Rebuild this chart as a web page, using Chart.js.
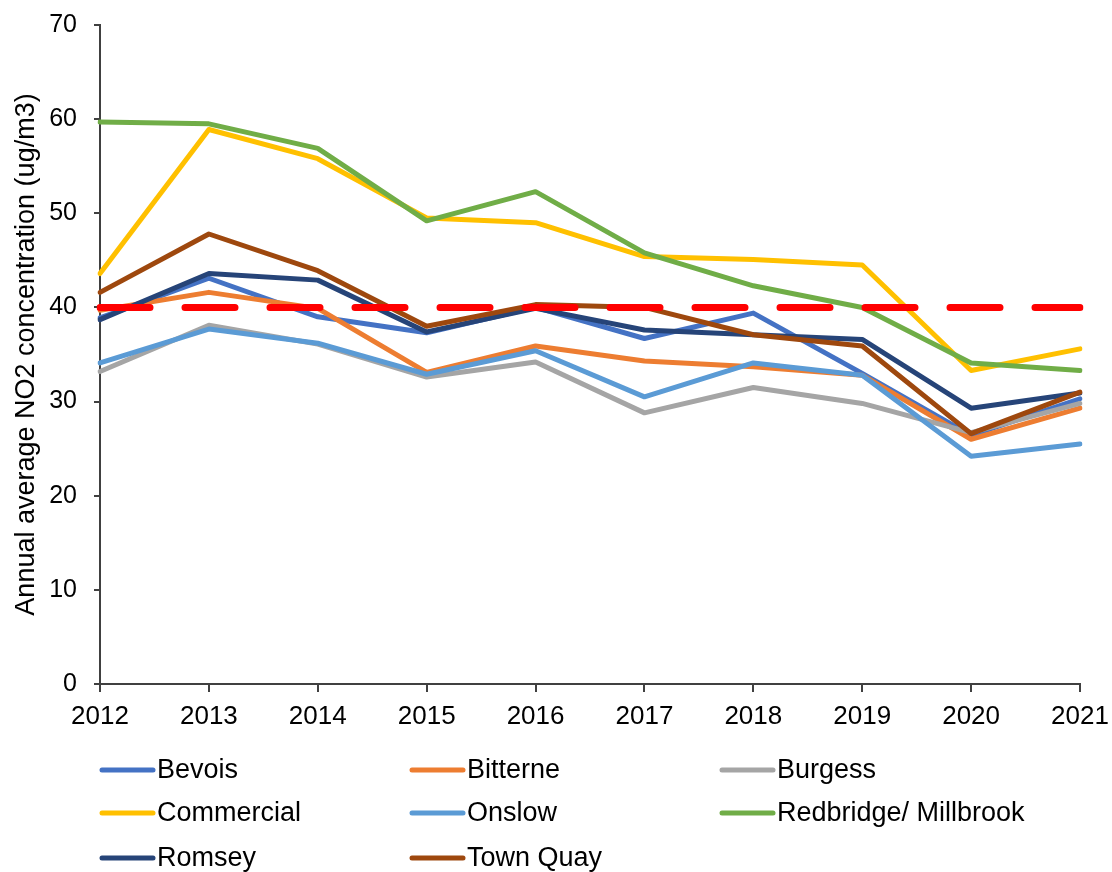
<!DOCTYPE html>
<html>
<head>
<meta charset="utf-8">
<script src="https://cdn.jsdelivr.net/npm/chart.js@4.4.1/dist/chart.umd.min.js"></script>
<style>
  html, body { margin: 0; padding: 0; background: #ffffff; }
  #wrap { width: 1112px; height: 872px; position: relative; }
</style>
</head>
<body>
<div id="wrap"><canvas id="c"></canvas></div>
<script>
const years = ['2012','2013','2014','2015','2016','2017','2018','2019','2020','2021'];
const yTicks = [0, 10, 20, 30, 40, 50, 60, 70];

const bevois     = [38.9, 43.1, 39.0, 37.3, 40.0, 36.7, 39.4, 33.0, 26.4, 30.3];
const bitterne   = [39.7, 41.6, 39.9, 33.1, 35.9, 34.3, 33.7, 32.8, 26.0, 29.3];
const burgess    = [33.2, 38.1, 36.1, 32.6, 34.2, 28.8, 31.5, 29.8, 26.7, 29.8];
const commercial = [43.6, 58.9, 55.8, 49.5, 49.0, 45.4, 45.1, 44.5, 33.3, 35.6];
const onslow     = [34.1, 37.7, 36.2, 32.9, 35.4, 30.5, 34.1, 32.8, 24.2, 25.5];
const redbridge  = [59.7, 59.5, 56.9, 49.2, 52.3, 45.8, 42.3, 40.0, 34.1, 33.3];
const romsey     = [38.7, 43.6, 42.9, 37.4, 39.9, 37.6, 37.1, 36.6, 29.3, 30.9];
const townQuay   = [41.6, 47.8, 43.9, 38.0, 40.3, 40.0, 37.1, 35.9, 26.6, 31.0];
const limitLine  = [40, 40, 40, 40, 40, 40, 40, 40, 40, 40];

const seriesNames = ['Bevois','Bitterne','Burgess','Commercial','Onslow','Redbridge/ Millbrook','Romsey','Town Quay'];
const seriesData  = [bevois, bitterne, burgess, commercial, onslow, redbridge, romsey, townQuay];
const seriesColors = ['#4472C4','#ED7D31','#A5A5A5','#FFC000','#5B9BD5','#70AD47','#264478','#9E480E'];

const FONT = '"Liberation Sans", Arial, sans-serif';

const datasets = seriesNames.map((name, i) => ({
  label: name,
  data: seriesData[i],
  borderColor: seriesColors[i],
  backgroundColor: seriesColors[i],
  borderWidth: 5,
  pointRadius: 0,
  pointHoverRadius: 0,
  tension: 0,
  fill: false,
  borderJoinStyle: 'round',
  borderCapStyle: 'round',
  order: seriesNames.length - i
}));
datasets.push({
  label: 'Limit',
  data: limitLine,
  borderColor: '#FF0000',
  borderWidth: 7,
  borderDash: [50, 35],
  borderCapStyle: 'round',
  pointRadius: 0,
  pointHoverRadius: 0,
  tension: 0,
  fill: false,
  order: 0
});

const gridLegend = {
  id: 'gridLegend',
  afterDraw(chart) {
    const ctx = chart.ctx;
    const colX = [100, 410, 720];
    const rowY = [770, 813, 858];
    ctx.save();
    ctx.font = '27px ' + FONT;
    ctx.textBaseline = 'middle';
    ctx.textAlign = 'left';
    seriesNames.forEach((name, i) => {
      const x = colX[i % 3];
      const y = rowY[Math.floor(i / 3)];
      ctx.strokeStyle = seriesColors[i];
      ctx.lineWidth = 5;
      ctx.lineCap = 'round';
      ctx.beginPath();
      ctx.moveTo(x + 2, y);
      ctx.lineTo(x + 53, y);
      ctx.stroke();
      ctx.fillStyle = '#000000';
      ctx.fillText(name, x + 57, y + 1);
    });
    ctx.restore();
  }
};

new Chart(document.getElementById('c'), {
  type: 'line',
  data: { labels: years, datasets },
  plugins: [gridLegend],
  options: {
    responsive: true,
    maintainAspectRatio: false,
    animation: false,
    events: [],
    layout: { padding: { left: 0, right: 32, top: 25, bottom: 138 } },
    plugins: {
      legend: { display: false },
      tooltip: { enabled: false },
      title: { display: false }
    },
    scales: {
      x: {
        type: 'category',
        offset: false,
        afterFit(scale) {
          scale.height = 50;
          scale.paddingLeft = 0;
          scale.paddingRight = 0;
        },
        grid: {
          display: true,
          drawOnChartArea: false,
          drawTicks: true,
          tickLength: 8,
          color: '#404040',
          lineWidth: 2
        },
        border: { display: true, color: '#404040', width: 2 },
        ticks: {
          autoSkip: false,
          maxRotation: 0,
          minRotation: 0,
          padding: 9,
          color: '#000000',
          font: { family: FONT, size: 26 }
        }
      },
      y: {
        min: 0,
        max: 70,
        afterFit(scale) {
          scale.width = 100;
          scale.paddingTop = 0;
          scale.paddingBottom = 0;
        },
        afterBuildTicks(scale) { scale.ticks = yTicks.map(v => ({ value: v })); },
        grid: {
          display: true,
          drawOnChartArea: false,
          drawTicks: true,
          tickLength: 6,
          color: '#404040',
          lineWidth: 2
        },
        border: { display: true, color: '#404040', width: 2 },
        ticks: {
          padding: 17,
          color: '#000000',
          font: { family: FONT, size: 25 }
        },
        title: {
          display: true,
          text: 'Annual average NO2 concentration (ug/m3)',
          color: '#000000',
          font: { family: FONT, size: 27 },
          padding: { top: 10, bottom: 0 }
        }
      }
    }
  }
});
</script>
</body>
</html>
